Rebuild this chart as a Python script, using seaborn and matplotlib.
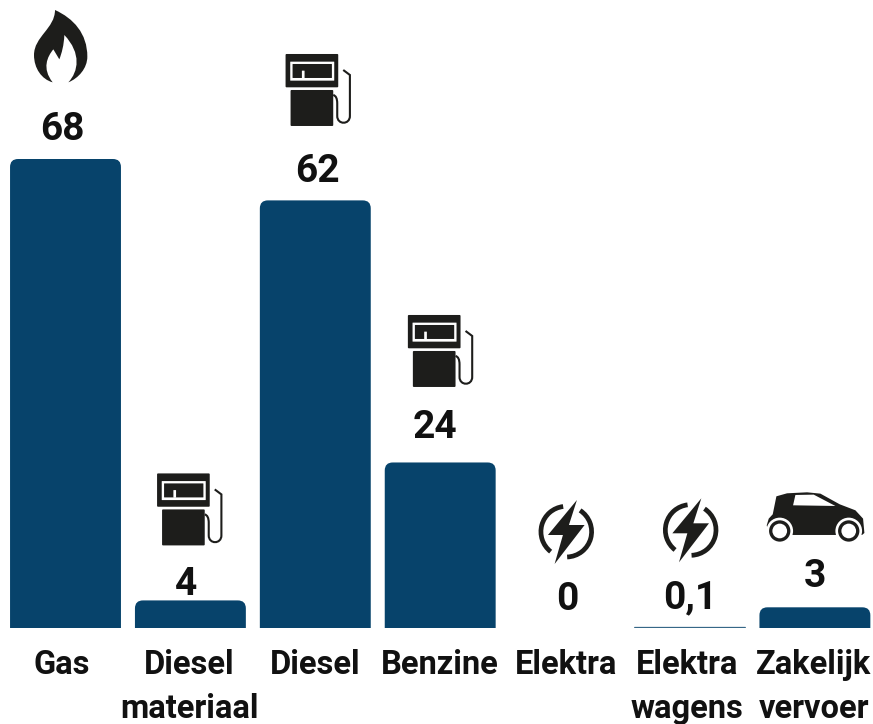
import matplotlib
matplotlib.use("Agg")
import matplotlib.pyplot as plt
from matplotlib.patches import FancyBboxPatch, PathPatch
from matplotlib.path import Path
from matplotlib.transforms import Affine2D
import numpy as np
import pandas as pd
import seaborn as sns

categories = ["Gas", "Diesel\nmateriaal", "Diesel", "Benzine", "Elektra", "Elektra\nwagens", "Zakelijk\nvervoer"]
values = [68, 4, 62, 24, 0, 0.1, 3]
value_labels = ["68", "4", "62", "24", "0", "0,1", "3"]
icons = ["flame", "pump", "pump", "pump", "bolt", "bolt", "car"]

BLUE = "#07436b"
DARK = "#1d1d1b"
TEXT = "#111111"

# layout in pixels of the 873x724 picture
W, H = 873, 724
BASE = 628
PITCH = 124.9
FIRST = 65.5
PX_PER_UNIT = 6.897
label_dx = [-4, -1, 0, 0, 1, -3, -1]
value_dx = [-3.5, -4, 2, -5, 2, 0, 0]
value_dy = [-30, -16, -29, -35, -28, -29, -31]
# bar top -> origin of the icon drawing
icon_dx = [-55.5, -49, -45.4, -48, -45.5, -46, -294.5]
icon_dy = [-159, -141, -160.4, -161.5, -138, -139, -117]

sns.set_theme(style="white")
plt.rcParams["font.family"] = ["Roboto", "DejaVu Sans"]

fig = plt.figure(figsize=(W / 100, H / 100), dpi=100)
ax = fig.add_axes([0, (H - BASE) / H, 1, BASE / H])

df = pd.DataFrame({"cat": categories, "val": values})
sns.barplot(data=df, x="cat", y="val", color=BLUE, saturation=1, width=0.888, ax=ax)

ax.set_xlim(-FIRST / PITCH, (W - FIRST) / PITCH)
ax.set_ylim(0, BASE / PX_PER_UNIT)
sns.despine(ax=ax, left=True, bottom=True)
ax.set_yticks([])
ax.set_xlabel("")
ax.set_ylabel("")
ax.set_xticks(np.arange(len(categories)) + np.array(label_dx) / PITCH)
ax.set_xticklabels(categories, fontsize=23.5, fontweight="bold", color=TEXT, linespacing=1.47)
ax.tick_params(axis="x", length=0, pad=15)

# rounded tops, the very thin bar stays a hairline
aspect = PITCH / PX_PER_UNIT
r = 8 / PITCH
for bar in list(ax.patches):
    h = bar.get_height()
    if h <= 0:
        continue
    if h < 1:
        bar.set(edgecolor=BLUE, linewidth=0.7, alpha=0.65, snap=False)
        continue
    bar.set_visible(False)
    ax.add_patch(FancyBboxPatch((bar.get_x(), -10), bar.get_width(), h + 10,
                                boxstyle=f"round,pad=0,rounding_size={r}",
                                mutation_aspect=aspect, fc=BLUE, ec="none"))

# icons, drawn in local pixel coordinates with y pointing down
M, L, C, Q, Z = Path.MOVETO, Path.LINETO, Path.CURVE4, Path.CURVE3, Path.CLOSEPOLY


def flame_parts():
    v = [(135, 30), (190, 55), (232, 100), (232, 170), (232, 205), (205, 235), (175, 247),
         (205, 215), (215, 160), (163, 105), (162, 135), (155, 160), (148, 178),
         (142, 168), (136, 158), (130, 148), (112, 170), (95, 205), (128, 247),
         (95, 238), (72, 205), (72, 165), (72, 110), (135, 85), (135, 30), (135, 30)]
    c = [M] + [C] * 24 + [Z]
    return [(Path(np.array(v) / 3, c), DARK, None)]


def rrect(x0, y0, x1, y1, r=3):
    v = [(x0 + r, y0), (x1 - r, y0), (x1, y0), (x1, y0 + r), (x1, y1 - r), (x1, y1), (x1 - r, y1),
         (x0 + r, y1), (x0, y1), (x0, y1 - r), (x0, y0 + r), (x0, y0), (x0 + r, y0), (x0 + r, y0)]
    c = [M, L, Q, Q, L, Q, Q, L, Q, Q, L, Q, Q, Z]
    return Path(np.array(v) / 3, c)


def pump_parts():
    hose = Path(np.array([(220, 90), (240, 105), (240, 228), (240, 255), (202, 255), (202, 228),
                          (202, 190), (202, 168), (190, 165)]) / 3,
                [M, L, L, C, C, C, L, Q, Q])
    return [(rrect(47, 42, 205, 142), DARK, None),
            (rrect(61, 65, 193, 122, 1), "white", None),
            (rrect(68, 72, 186, 114, 1), DARK, None),
            (rrect(96, 92, 104, 115, 1), "white", None),
            (rrect(62, 150, 190, 258), DARK, None),
            (hose, "none", 1.5)]


def bolt_parts():
    bolt = Path(np.array([(172, 30), (85, 135), (130, 135), (105, 222), (195, 105), (148, 105), (172, 30), (172, 30)]) / 3,
                [M, L, L, L, L, L, L, Z])
    arc = Affine2D().scale(76 / 3, -76 / 3).translate(140 / 3, 125 / 3)
    left = Path.arc(97, 232).transformed(arc)
    right = Path.arc(272, 57 + 360).transformed(arc)
    return [(bolt, DARK, None), (left, "none", 3.4), (right, "none", 3.4)]


def disc(x, y, r):
    return Path.circle((x / 3, y / 3), r / 3)


def car_parts():
    body = [(745, 134), (739, 105), (745, 85), (757, 72), (768, 18), (800, 9), (860, 6), (900, 10),
            (958, 42), (1005, 60), (1028, 85), (1032, 128), (1025, 134), (745, 134), (745, 134)]
    window = [(818, 45), (825, 14), (880, 13), (945, 47), (818, 45), (818, 45)]
    out = [(Path(np.array(body) / 3, [M] + [L] * 13 + [Z]), DARK, None),
           (Path(np.array(window) / 3, [M, L, L, L, L, Z]), "white", None)]
    for wx in (778, 985):
        out += [(disc(wx, 122, 40), "white", None), (disc(wx, 122, 32), DARK, None), (disc(wx, 122, 22), "white", None)]
    return out


icon_parts = {"flame": flame_parts(), "pump": pump_parts(), "bolt": bolt_parts(), "car": car_parts()}

fig.canvas.draw()
for i, (name, v) in enumerate(zip(icons, values)):
    px, py = ax.transData.transform((i, v))
    tr = Affine2D().scale(1, -1).translate(px + icon_dx[i], py - icon_dy[i])
    for path, fc, lw in icon_parts[name]:
        if lw:
            patch = PathPatch(path, fc="none", ec=DARK, lw=lw, transform=tr, capstyle="butt")
        else:
            patch = PathPatch(path, fc=fc, ec="none", transform=tr)
        fig.add_artist(patch)

# value labels
for i, (lab, v) in enumerate(zip(value_labels, values)):
    ax.annotate(lab, xy=(i, v), xytext=(value_dx[i], -value_dy[i]), textcoords="offset pixels",
                ha="center", va="center", fontsize=28, fontweight="bold", color=TEXT, annotation_clip=False)

fig.savefig("out.png", dpi=100)
